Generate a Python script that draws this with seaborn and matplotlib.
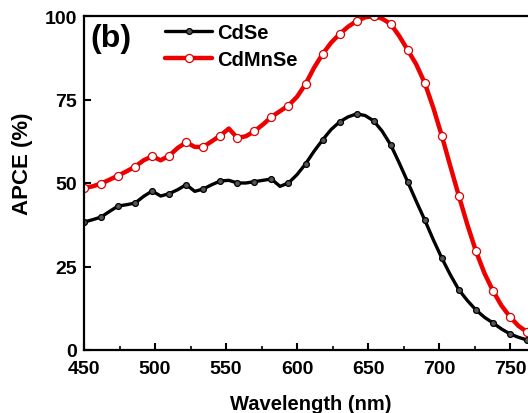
import numpy as np
import pandas as pd
import matplotlib
matplotlib.use("Agg")
import matplotlib.pyplot as plt
import seaborn as sns
from matplotlib.ticker import MultipleLocator

wavelength = [450, 456, 462, 468, 474, 480, 486, 492, 498, 504, 510, 516, 522, 528,
              534, 540, 546, 552, 558, 564, 570, 576, 582, 588, 594, 600, 606, 612,
              618, 624, 630, 636, 642, 648, 654, 660, 666, 672, 678, 684, 690, 696,
              702, 708, 714, 720, 726, 732, 738, 744, 750, 756, 762]

cdmnse = [48.5, 49.0, 49.8, 51.0, 52.2, 53.5, 54.9, 56.8, 58.0, 56.8, 58.2, 60.5, 62.2, 60.8,
          60.8, 62.5, 64.2, 66.3, 63.5, 64.0, 65.5, 67.5, 69.8, 71.5, 73.2, 75.8, 79.6, 84.5,
          88.6, 92.0, 94.6, 96.8, 98.5, 99.6, 100.0, 99.2, 97.6, 94.0, 89.8, 85.5, 79.9, 72.5,
          64.1, 55.0, 46.1, 37.5, 29.6, 23.0, 17.7, 13.3, 9.9, 7.2, 5.4]

cdse = [38.3, 39.0, 39.8, 41.5, 43.1, 43.5, 44.0, 46.0, 47.6, 46.1, 46.8, 48.0, 49.5, 47.5,
        48.2, 49.5, 50.6, 50.8, 50.0, 50.0, 50.4, 50.8, 51.2, 49.0, 50.0, 52.5, 55.7, 59.5,
        62.9, 66.0, 68.3, 69.8, 70.7, 70.2, 68.6, 65.5, 61.4, 56.0, 50.3, 44.5, 38.9, 33.0,
        27.5, 22.5, 18.0, 14.8, 12.0, 9.8, 8.1, 6.3, 4.8, 3.8, 3.0]

x_ticks = [450, 500, 550, 600, 650, 700, 750]
y_ticks = [0, 25, 50, 75, 100]

sns.set_style("ticks")
plt.rcParams['font.family'] = ['Liberation Sans', 'DejaVu Sans']
plt.rcParams['font.weight'] = 'bold'
for k in ["text.color", "axes.labelcolor", "xtick.color", "ytick.color", "axes.edgecolor"]:
    plt.rcParams[k] = "black"

df = pd.DataFrame({"wl": wavelength, "CdSe": cdse, "CdMnSe": cdmnse})

fig = plt.figure(figsize=(5.28, 4.14), dpi=100)
W, H = 528, 414
left_px, right_px, top_px, bot_px = 84, 84 + 320 * 1.42, 17, 351
ax = fig.add_axes([left_px / W, 1 - bot_px / H, (right_px - left_px) / W, (bot_px - top_px) / H])

sns.lineplot(data=df, x="wl", y="CdSe", ax=ax, color="black", linewidth=2.4,
             marker="o", markersize=4.2, markerfacecolor="#555555",
             markeredgecolor="black", markeredgewidth=0.9, markevery=2, label="CdSe")
sns.lineplot(data=df, x="wl", y="CdMnSe", ax=ax, color="#ee0000", linewidth=3.2,
             marker="o", markersize=5.8, markerfacecolor="white",
             markeredgecolor="#dd0000", markeredgewidth=0.9, markevery=2, label="CdMnSe")

ax.set_xlim(450, 770)
ax.set_ylim(0, 100)
ax.set_xticks(x_ticks)
ax.set_yticks(y_ticks)
ax.xaxis.set_minor_locator(MultipleLocator(25))
ax.tick_params(axis="both", which="major", direction="in", length=5, width=1.5,
               labelsize=14)
ax.tick_params(axis="x", which="major", pad=7)
ax.tick_params(axis="y", which="major", pad=5)
ax.tick_params(axis="x", which="minor", direction="in", length=3, width=1.2)
for lab in ax.get_xticklabels() + ax.get_yticklabels():
    lab.set_fontweight("bold")

for s in ["left", "bottom", "top", "right"]:
    ax.spines[s].set_linewidth(1.6)
    ax.spines[s].set_color("black")

ax.set_xlabel("Wavelength (nm)", fontsize=14.5, fontweight="bold")
ax.set_ylabel("APCE (%)", fontsize=16, fontweight="bold")
ax.xaxis.set_label_coords(0.5, -0.133)
ax.yaxis.set_label_coords(-0.112, 0.56)

ax.text(0.013, 0.978, "(b)", transform=ax.transAxes, fontsize=23, fontweight="bold",
        va="top", ha="left")

leg = ax.legend(loc="upper left", bbox_to_anchor=(0.178, 0.978), frameon=False,
                fontsize=14.5, handlelength=2.35, handletextpad=0.25, labelspacing=0.38,
                borderaxespad=0, borderpad=0)
for t in leg.get_texts():
    t.set_fontweight("bold")

fig.savefig("out.png", dpi=100)
